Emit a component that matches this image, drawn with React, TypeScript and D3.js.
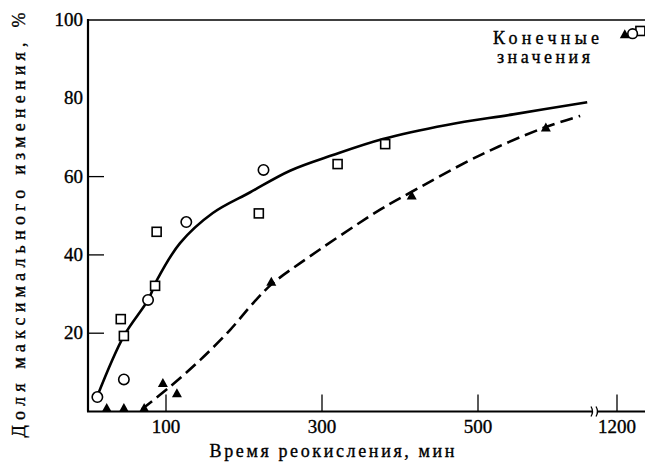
import React from "react";
import * as d3 from "d3";

const W = 645;
const H = 462;

// x values in minutes, y values in % of max change
const circlesX = [12, 46, 77, 126, 225];
const circlesY = [3.7, 8.2, 28.5, 48.4, 61.7];

const squaresX = [42, 46, 86, 88, 219, 320, 381];
const squaresY = [23.6, 19.3, 32.1, 45.9, 50.6, 63.2, 68.3];

const trianglesX = [24, 46, 72, 96, 114, 235, 415, 587];
const trianglesY = [1, 1, 1, 7.4, 4.8, 33.3, 55.3, 72.7];

// "final values" plotted after the axis break, around 1200 min
const finalTriangle = { x: 1210, y: 96.5 };
const finalCircle = { x: 1220, y: 96.5 };
const finalSquare = { x: 1230, y: 97.2 };

// fitted curves
const solidX = [11.5, 46, 77, 88.5, 118, 160, 208, 259, 314, 378, 460, 545, 640];
const solidY = [3.7, 19.3, 28.5, 33.6, 43, 50.7, 56, 61.5, 65.5, 69.6, 73.2, 75.9, 79];

const dashX = [69, 105, 144, 182, 214, 236, 272, 374, 414, 503, 586, 631];
const dashY = [0.6, 6.3, 13.2, 20.8, 28.2, 32.6, 37.9, 51.5, 56, 65.5, 72.6, 75.5];

const xTicks = [100, 300, 500, 1200];
const yTicks = [20, 40, 60];
const yTickLabels = [20, 40, 60, 80, 100];

const xMain = d3.scaleLinear().domain([0, 500]).range([88, 478]);
const xTail = d3.scaleLinear().domain([1200, 1300]).range([617, 695]);
const x = (v: number) => (v < 900 ? xMain(v) : xTail(v));
const y = d3.scaleLinear().domain([0, 100]).range([411.5, 20]);

const serif = "Liberation Serif, Times New Roman, DejaVu Serif, serif";
const ts = { fontFamily: serif };

function Tri({ cx, cy }: { cx: number; cy: number }) {
  const s = 10;
  const h = 9;
  const p = `M${cx - s / 2},${cy + h / 2}L${cx + s / 2},${cy + h / 2}L${cx},${cy - h / 2}Z`;
  return <path d={p} fill="#000" />;
}

export default function App() {
  const line = d3
    .line<[number, number]>()
    .x((d) => x(d[0]))
    .y((d) => y(d[1]))
    .curve(d3.curveCatmullRom.alpha(0.5));
  const solidPts = solidX.map((v, i) => [v, solidY[i]] as [number, number]);
  const dashPts = dashX.map((v, i) => [v, dashY[i]] as [number, number]);
  const breakX = xMain(650);
  const x0 = xMain(0);
  const yb = y(0);
  const tstroke = { stroke: "#000", strokeWidth: 0.35 };

  return (
    <svg
      width={W}
      height={H}
      style={{ position: "absolute", left: 0, top: 0, background: "#fff" }}
    >
      <rect x={0} y={0} width={W} height={H} fill="#fff" />
      {/* axes */}
      <line x1={x0} y1={y(100) - 1} x2={x0} y2={yb} stroke="#000" strokeWidth={2.2} />
      <line x1={x0 - 1} y1={y(100)} x2={W} y2={y(100)} stroke="#000" strokeWidth={1.6} />
      <line x1={x0 - 1} y1={yb} x2={W} y2={yb} stroke="#000" strokeWidth={2.2} />
      {/* axis break */}
      <rect x={breakX - 3} y={yb - 6} width={6} height={12} fill="#fff" />
      <path d={`M${breakX - 4},${yb + 5} Q${breakX - 1},${yb} ${breakX - 4},${yb - 5}`} stroke="#000" strokeWidth={1.3} fill="none" />
      <path d={`M${breakX + 1},${yb + 5} Q${breakX + 4},${yb} ${breakX + 1},${yb - 5}`} stroke="#000" strokeWidth={1.3} fill="none" />

      {/* ticks */}
      {yTicks.map((t) => (
        <line key={t} x1={x0} y1={y(t)} x2={x0 + 16} y2={y(t)} stroke="#000" strokeWidth={1.3} />
      ))}
      {xTicks.map((t) => (
        <line key={t} x1={x(t)} y1={yb} x2={x(t)} y2={yb - 17} stroke="#000" strokeWidth={1.3} />
      ))}
      {yTickLabels.map((t) => (
        <text key={t} x={x0 - 5} y={y(t) + 6} fontSize={19} textAnchor="end" style={ts} {...tstroke}>
          {t}
        </text>
      ))}
      {xTicks.map((t) => (
        <text key={t} x={x(t)} y={433} fontSize={19} textAnchor="middle" style={ts} {...tstroke}>
          {t}
        </text>
      ))}

      {/* axis titles */}
      <text
        x={0}
        y={0}
        transform={`translate(25,${225}) rotate(-90)`}
        fontSize={18}
        textAnchor="middle"
        textLength={425}
        lengthAdjust="spacing"
        style={ts}
        {...tstroke}
      >
        Доля максимального изменения, %
      </text>
      <text x={332} y={457} fontSize={18} textAnchor="middle" textLength={245} lengthAdjust="spacing" style={ts} {...tstroke}>
        Время реокисления, мин
      </text>

      {/* curves */}
      <path d={line(solidPts) || ""} fill="none" stroke="#000" strokeWidth={2.6} />
      <path d={line(dashPts) || ""} fill="none" stroke="#000" strokeWidth={2.6} strokeDasharray="13 6" />

      {/* markers */}
      {squaresX.map((v, i) => (
        <rect key={i} x={x(v) - 4.5} y={y(squaresY[i]) - 4.5} width={9} height={9} fill="#fff" stroke="#000" strokeWidth={1.6} />
      ))}
      {circlesX.map((v, i) => (
        <circle key={i} cx={x(v)} cy={y(circlesY[i])} r={5.2} fill="#fff" stroke="#000" strokeWidth={1.6} />
      ))}
      {trianglesX.map((v, i) => (
        <Tri key={i} cx={x(v)} cy={y(trianglesY[i])} />
      ))}

      {/* final values */}
      <rect x={x(finalSquare.x) - 4.5} y={y(finalSquare.y) - 4.5} width={9} height={9} fill="#fff" stroke="#000" strokeWidth={1.6} />
      <circle cx={x(finalCircle.x)} cy={y(finalCircle.y)} r={4.8} fill="#fff" stroke="#000" strokeWidth={1.6} />
      <Tri cx={x(finalTriangle.x)} cy={y(finalTriangle.y)} />
      <text x={493} y={44} fontSize={18} textLength={106} lengthAdjust="spacing" style={ts} {...tstroke}>
        Конечные
      </text>
      <text x={497} y={63} fontSize={18} textLength={93} lengthAdjust="spacing" style={ts} {...tstroke}>
        значения
      </text>
    </svg>
  );
}
